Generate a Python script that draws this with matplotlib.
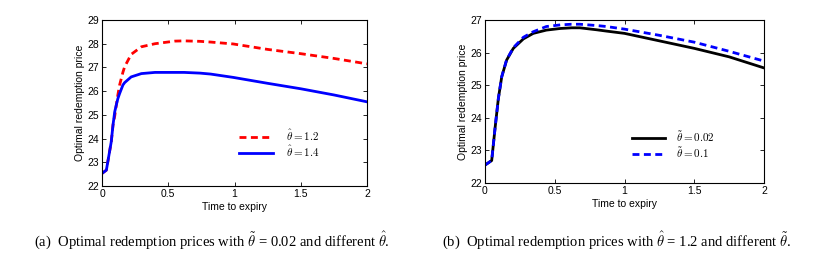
import numpy as np
import matplotlib
matplotlib.use('Agg')
import matplotlib.pyplot as plt

plt.rcParams['font.family'] = ['Liberation Sans', 'DejaVu Sans']
plt.rcParams['mathtext.fontset'] = 'cm'

# left panel: theta_tilde = 0.02, different theta_hat
t_a = [0, 0.033, 0.07, 0.083, 0.096, 0.108, 0.12, 0.133, 0.158, 0.171, 0.22, 0.297, 0.4,
       0.55, 0.62, 0.74, 0.82, 0.99, 1.25, 1.5, 1.75, 2.0]
red_a = [22.53, 22.67, 23.87, 24.57, 24.95, 25.41, 25.85, 26.26, 26.8, 27.03, 27.55, 27.87, 28.0,
         28.11, 28.12, 28.1, 28.07, 27.99, 27.76, 27.58, 27.38, 27.15]
blue_a = [22.53, 22.67, 23.87, 24.57, 25.13, 25.42, 25.69, 25.9, 26.26, 26.36, 26.6, 26.74, 26.79,
          26.79, 26.79, 26.76, 26.72, 26.58, 26.33, 26.1, 25.84, 25.55]

# right panel: theta_hat = 1.2, different theta_tilde
t_b = [0, 0.048, 0.072, 0.096, 0.12, 0.155, 0.203, 0.275, 0.346, 0.44, 0.54, 0.62, 0.68, 0.8,
       0.87, 1.0, 1.25, 1.5, 1.75, 2.0]
black_b = [22.55, 22.69, 23.68, 24.6, 25.26, 25.77, 26.13, 26.42, 26.59, 26.69, 26.74, 26.76,
           26.76, 26.7, 26.66, 26.59, 26.36, 26.13, 25.87, 25.53]
blue_b = [22.55, 22.69, 23.68, 24.6, 25.26, 25.78, 26.15, 26.47, 26.64, 26.8, 26.85, 26.87,
          26.87, 26.83, 26.8, 26.72, 26.53, 26.32, 26.04, 25.74]

xticks = [0, 0.5, 1, 1.5, 2]
xtick_labels = ['0', '0.5', '1', '1.5', '2']

fig = plt.figure(figsize=(8.17, 2.56), dpi=100)
W, H = 817.0, 256.0
ax1 = fig.add_axes([102/W, 1-186/H, 265/W, 166/H])
ax2 = fig.add_axes([485/W, 1-183/H, 279/W, 163/H])


def style(ax, ylim):
    ax.set_xlim(0, 2)
    ax.set_ylim(*ylim)
    ax.set_xticks(xticks)
    ax.set_xticklabels(xtick_labels)
    ax.set_yticks(range(ylim[0], ylim[1] + 1))
    ax.tick_params(direction='in', top=True, right=True, labelsize=7.5, length=3, width=0.6, pad=2)
    for s in ax.spines.values():
        s.set_linewidth(0.8)
    ax.set_xlabel('Time to expiry', fontsize=7.5, labelpad=2)
    ax.set_ylabel('Optimal redemption price', fontsize=7.5, labelpad=2)


ax1.plot(t_a, red_a, color='#ff0000', ls=(0, (2.5, 1.6)), lw=2, label=r'$\hat{\theta} = 1.2$')
ax1.plot(t_a, blue_a, color='#0000ff', lw=2, label=r'$\hat{\theta} = 1.4$')
style(ax1, (22, 29))
ax1.legend(loc='upper left', bbox_to_anchor=(0.48, 0.41), frameon=False, fontsize=8,
           handlelength=3.0, labelspacing=0.1, handletextpad=1.2)

ax2.plot(t_b, black_b, color='black', lw=2, label=r'$\tilde{\theta} = 0.02$')
ax2.plot(t_b, blue_b, color='#0000ff', ls=(0, (2.5, 1.6)), lw=2, label=r'$\tilde{\theta} = 0.1$')
style(ax2, (22, 27))
ax2.legend(loc='upper left', bbox_to_anchor=(0.49, 0.395), frameon=False, fontsize=8,
           handlelength=3.0, labelspacing=0.1, handletextpad=1.0)

fig.text(212/W, 1-240/H,
         r'(a)  Optimal redemption prices with $\tilde{\theta}$ = 0.02 and different $\hat{\theta}$.',
         ha='center', va='center', fontsize=10.5, family='Liberation Serif')
fig.text(617/W, 1-240/H,
         r'(b)  Optimal redemption prices with $\hat{\theta}$ = 1.2 and different $\tilde{\theta}$.',
         ha='center', va='center', fontsize=10.5, family='Liberation Serif')

fig.savefig('out.png', dpi=100)
